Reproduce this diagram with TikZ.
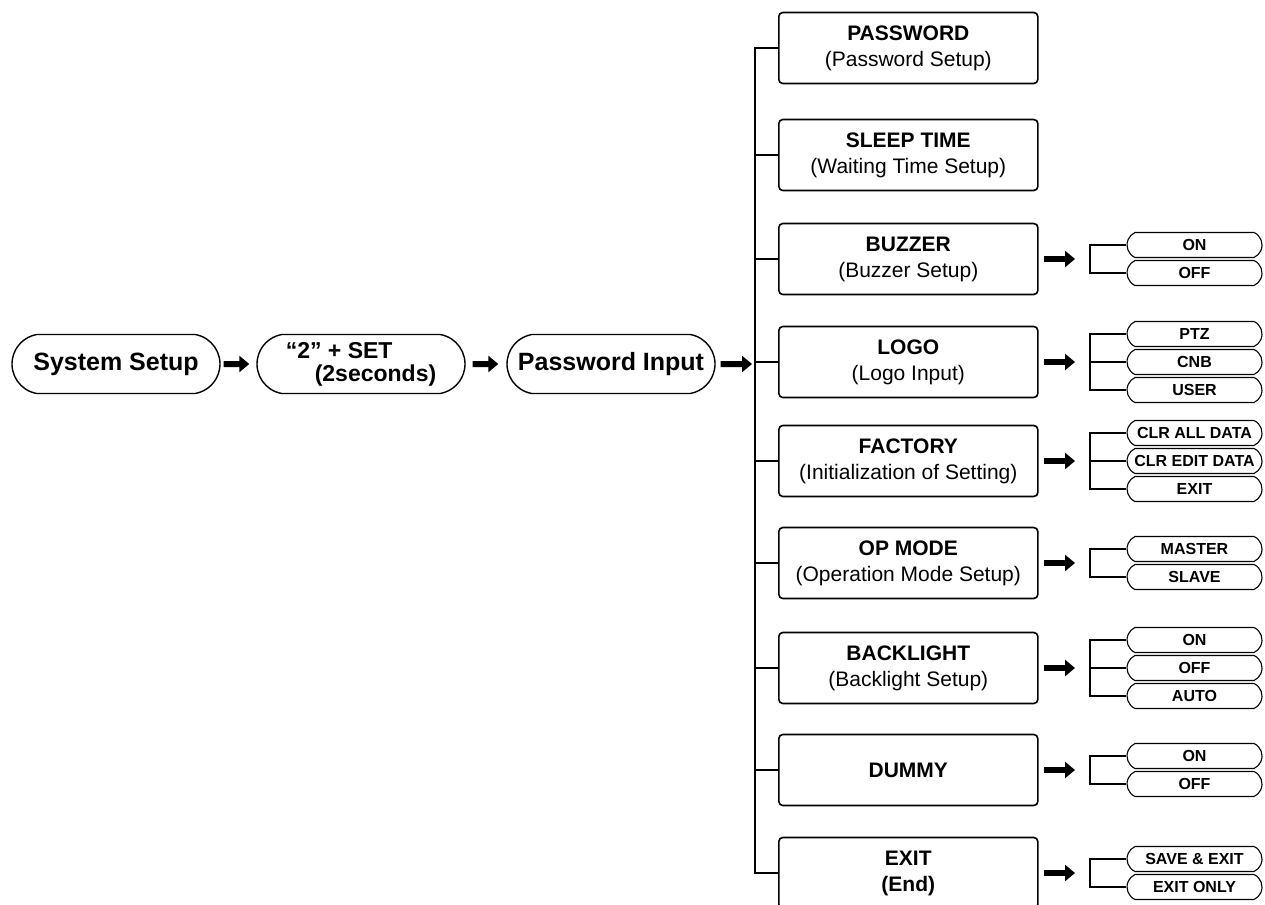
\documentclass[tikz,border=0pt]{standalone}
\usepackage{fontspec}
\setmainfont{Liberation Sans}
\usetikzlibrary{arrows.meta,shapes.misc}

\begin{document}
\begin{tikzpicture}[x=1pt,y=-1pt]
        \tikzset{chain/.style = {shape=rounded rectangle,rounded rectangle arc length=160,draw,line width=1.4pt,minimum width=208pt,minimum height=59pt,inner sep=0pt,font=\fontsize{25}{19}\selectfont\bfseries}}
        \tikzset{menu/.style = {shape=rectangle,rounded corners=4pt,draw,line width=1.6pt,minimum width=259pt,minimum height=71pt,inner sep=0pt,align=center,anchor=west,font=\fontsize{21}{26}\selectfont}}
        \tikzset{pill/.style = {shape=rounded rectangle,rounded rectangle arc length=130,draw,line width=1.1pt,minimum width=135pt,minimum height=25pt,inner sep=0pt,font=\fontsize{16}{16}\selectfont\bfseries}}
        \tikzset{fat/.style = {line width=6pt,-{Triangle[length=10pt,width=16pt]}}}
        \tikzset{link/.style = {line width=1.8pt}}
        \tikzset{fork/.style = {line width=1.2pt}}
        \useasboundingbox (0,0) rectangle (1265,904);
        % chain
        \node[chain] (sys) at (116,364) {System Setup};
        \node[chain,align=left,font=\fontsize{23}{23}\selectfont\bfseries] (set) at (361,364) {“2” + SET\\\hspace*{29pt}(2seconds)};
        \node[chain] (pwd) at (611,364) {Password Input};
        \coordinate (trunk) at (755,364);
        % menu
        \node[menu] (pw) at (778,48) {\textbf{PASSWORD}\\(Password Setup)};
        \node[menu] (sl) at (778,155) {\textbf{SLEEP TIME}\\(Waiting Time Setup)};
        \node[menu] (bz) at (778,259) {\textbf{BUZZER}\\(Buzzer Setup)};
        \node[menu] (lg) at (778,362) {\textbf{LOGO}\\(Logo Input)};
        \node[menu] (fa) at (778,461) {\textbf{FACTORY}\\(Initialization of Setting)};
        \node[menu] (op) at (778,563) {\textbf{OP MODE}\\(Operation Mode Setup)};
        \node[menu] (bl) at (778,668) {\textbf{BACKLIGHT}\\(Backlight Setup)};
        \node[menu] (du) at (778,770) {\textbf{DUMMY}};
        \node[menu] (ex) at (778,873) {\textbf{EXIT}\\\textbf{(End)}};
        % forks
        \coordinate (bz0) at (1090,259);
        \coordinate (lg0) at (1090,362);
        \coordinate (fa0) at (1090,461);
        \coordinate (op0) at (1090,563);
        \coordinate (bl0) at (1090,668);
        \coordinate (du0) at (1090,770);
        \coordinate (ex0) at (1090,873);
        % options
        \node[pill] (bz1) at (1194.5,245) {ON};
        \node[pill] (bz2) at (1194.5,273) {OFF};
        \node[pill] (lg1) at (1194.5,334) {PTZ};
        \node[pill] (lg2) at (1194.5,362) {CNB};
        \node[pill] (lg3) at (1194.5,390) {USER};
        \node[pill] (fa1) at (1194.5,433) {CLR ALL DATA};
        \node[pill] (fa2) at (1194.5,461) {CLR EDIT DATA};
        \node[pill] (fa3) at (1194.5,489) {EXIT};
        \node[pill] (op1) at (1194.5,549) {MASTER};
        \node[pill] (op2) at (1194.5,577) {SLAVE};
        \node[pill] (bl1) at (1194.5,640) {ON};
        \node[pill] (bl2) at (1194.5,668) {OFF};
        \node[pill] (bl3) at (1194.5,696) {AUTO};
        \node[pill] (du1) at (1194.5,756) {ON};
        \node[pill] (du2) at (1194.5,784) {OFF};
        \node[pill] (ex1) at (1194.5,859) {SAVE \& EXIT};
        \node[pill] (ex2) at (1194.5,887) {EXIT ONLY};
        %edges
        \draw[fat,shorten <=3pt,shorten >=7pt] (sys) -- (set);
        \draw[fat,shorten <=7pt,shorten >=8pt] (set) -- (pwd);
        \draw[fat,shorten <=5pt,shorten >=3pt] (pwd) -- (trunk);
        \foreach \m in {pw,sl,bz,lg,fa,op,bl,du,ex}
            \draw[link] (\m.west) -| (trunk);
        \foreach \m in {bz,lg,fa,op,bl,du,ex}
            \draw[fat,shorten <=5pt,shorten >=15pt] (\m.east) -- (\m0);
        \foreach \p/\m in {bz1/bz,bz2/bz,lg1/lg,lg2/lg,lg3/lg,fa1/fa,fa2/fa,fa3/fa,op1/op,op2/op,bl1/bl,bl2/bl,bl3/bl,du1/du,du2/du,ex1/ex,ex2/ex}
            \draw[fork] (\p.west) -| (\m0);
\end{tikzpicture}
\end{document}
